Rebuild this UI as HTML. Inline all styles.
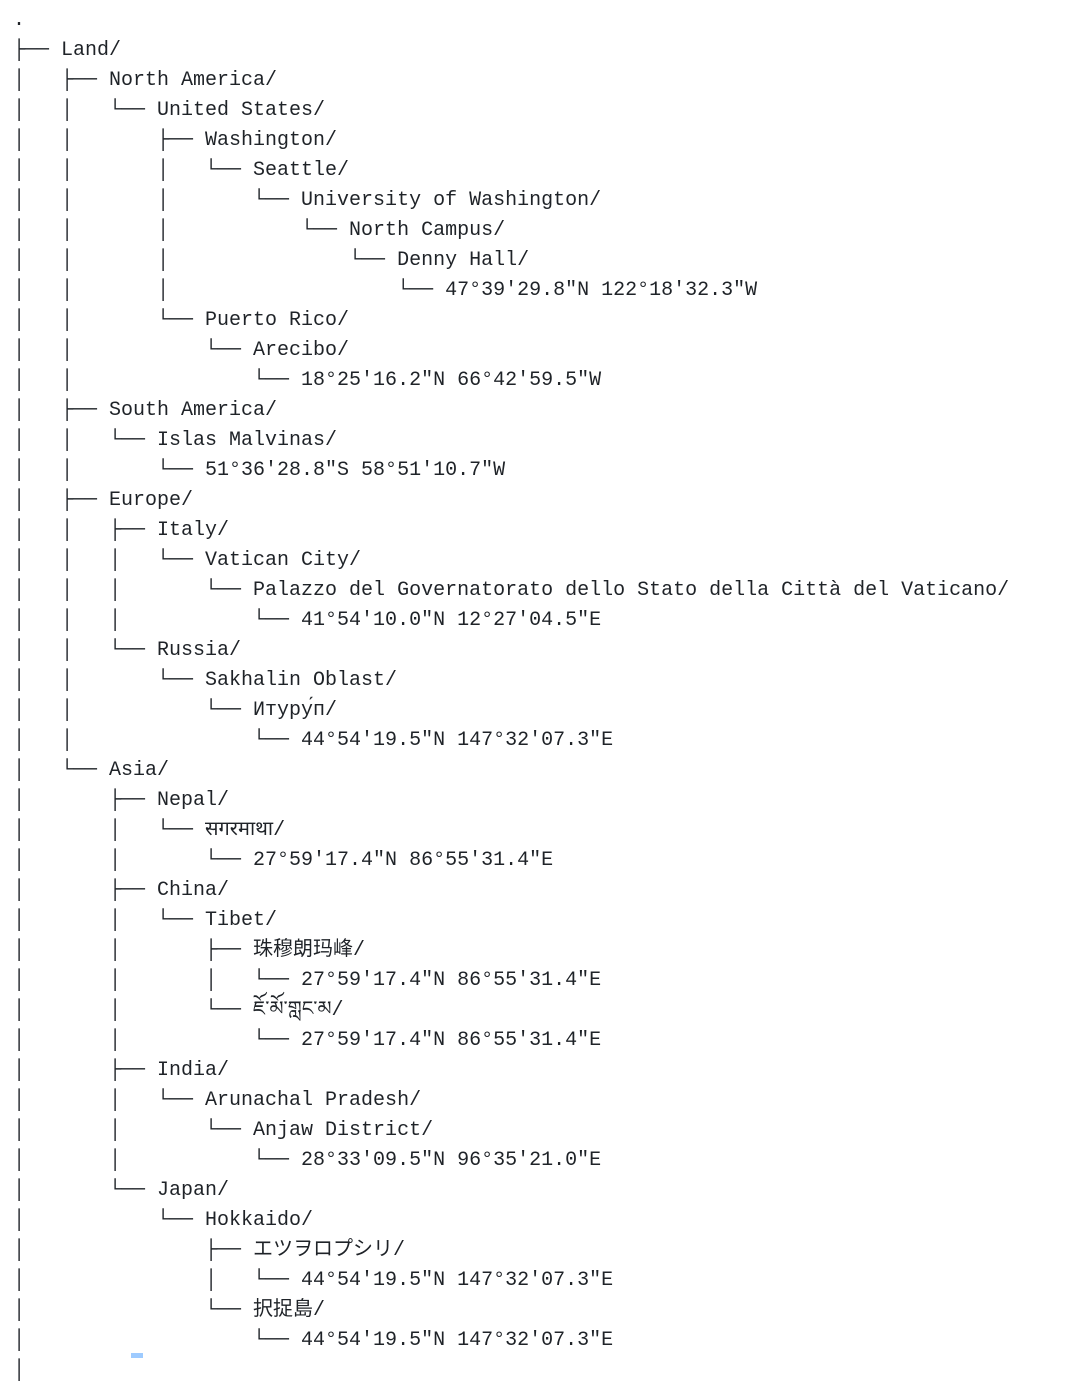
<!DOCTYPE html>
<html><head><meta charset="utf-8"><style>
html,body{margin:0;padding:0;background:#fff;width:1072px;height:1358px;overflow:hidden;}
pre{margin:0;position:absolute;left:13px;top:6px;font-family:"Liberation Mono","DejaVu Sans Mono","Noto Sans CJK JP",monospace;font-size:20px;line-height:30px;color:#1f2328;white-space:pre;}
.cur{position:absolute;left:131px;top:1353px;width:12px;height:5px;background:#9ecbff;}
</style></head><body>
<pre>.
├── Land/
│   ├── North America/
│   │   └── United States/
│   │       ├── Washington/
│   │       │   └── Seattle/
│   │       │       └── University of Washington/
│   │       │           └── North Campus/
│   │       │               └── Denny Hall/
│   │       │                   └── 47°39'29.8"N 122°18'32.3"W
│   │       └── Puerto Rico/
│   │           └── Arecibo/
│   │               └── 18°25'16.2"N 66°42'59.5"W
│   ├── South America/
│   │   └── Islas Malvinas/
│   │       └── 51°36'28.8"S 58°51'10.7"W
│   ├── Europe/
│   │   ├── Italy/
│   │   │   └── Vatican City/
│   │   │       └── Palazzo del Governatorato dello Stato della Città del Vaticano/
│   │   │           └── 41°54'10.0"N 12°27'04.5"E
│   │   └── Russia/
│   │       └── Sakhalin Oblast/
│   │           └── Итуру́п/
│   │               └── 44°54'19.5"N 147°32'07.3"E
│   └── Asia/
│       ├── Nepal/
│       │   └── सगरमाथा/
│       │       └── 27°59'17.4"N 86°55'31.4"E
│       ├── China/
│       │   └── Tibet/
│       │       ├── 珠穆朗玛峰/
│       │       │   └── 27°59'17.4"N 86°55'31.4"E
│       │       └── ཇོ་མོ་གླང་མ/
│       │           └── 27°59'17.4"N 86°55'31.4"E
│       ├── India/
│       │   └── Arunachal Pradesh/
│       │       └── Anjaw District/
│       │           └── 28°33'09.5"N 96°35'21.0"E
│       └── Japan/
│           └── Hokkaido/
│               ├── エツヲロプシリ/
│               │   └── 44°54'19.5"N 147°32'07.3"E
│               └── 択捉島/
│                   └── 44°54'19.5"N 147°32'07.3"E
│</pre>
<div class="cur"></div>
</body></html>
